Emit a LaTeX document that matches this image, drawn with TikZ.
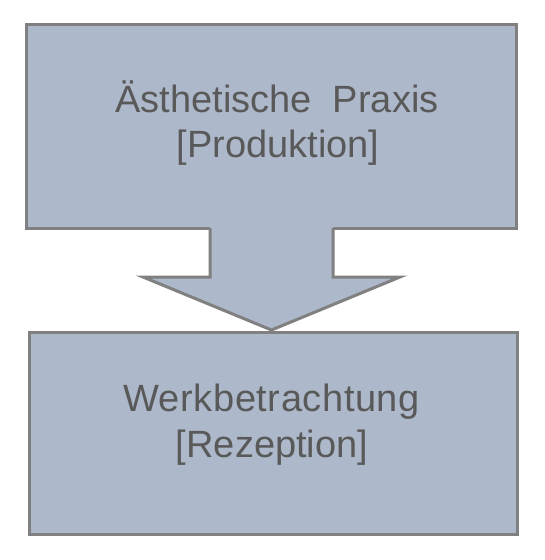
\documentclass[tikz,border=0pt]{standalone}
\usepackage{fontspec}
\setmainfont{Liberation Sans}
\definecolor{boxfill}{HTML}{ADB9CA}
\definecolor{boxline}{HTML}{808080}
\definecolor{txt}{HTML}{595959}
\begin{document}
\begin{tikzpicture}[x=1pt,y=-1pt,
  panel/.style={draw=boxline,fill=boxfill,line width=3pt,rectangle,inner sep=0pt},
  label/.style={text=txt,font=\fontsize{38}{44}\selectfont,anchor=base,inner sep=0pt}]
\useasboundingbox (0,0) rectangle (544,560);
\node[panel,minimum width=490pt,minimum height=204pt] (top) at (271.5,126) {};
\node[panel,minimum width=488pt,minimum height=202pt] (bot) at (273,433) {};
% arrow
\coordinate (s1) at (210,226);
\coordinate (s2) at (210,277);
\coordinate (h1) at (143,277);
\coordinate (tip) at (271.5,330);
\coordinate (h2) at (400,277);
\coordinate (s3) at (333,277);
\coordinate (s4) at (333,226);
\fill[boxfill] (s1) -- (s2) -- (h1) -- (tip) -- (h2) -- (s3) -- (s4) -- cycle;
\draw[boxline,line width=3pt,line join=miter] (210,228) -- (s2) -- (h1) -- (tip) -- (h2) -- (s3) -- (333,228);
\node[label] (t1) at (277,112) {Ästhetische\hspace{21pt}Praxis};
\node[label] (t2) at (278,157) {[Produktion]};
\node[label] (b1) at (271.5,411) {\addfontfeature{LetterSpace=1.5}Werkbetrachtung};
\node[label] (b2) at (272,457) {[Rezeption]};
\end{tikzpicture}
\end{document}
